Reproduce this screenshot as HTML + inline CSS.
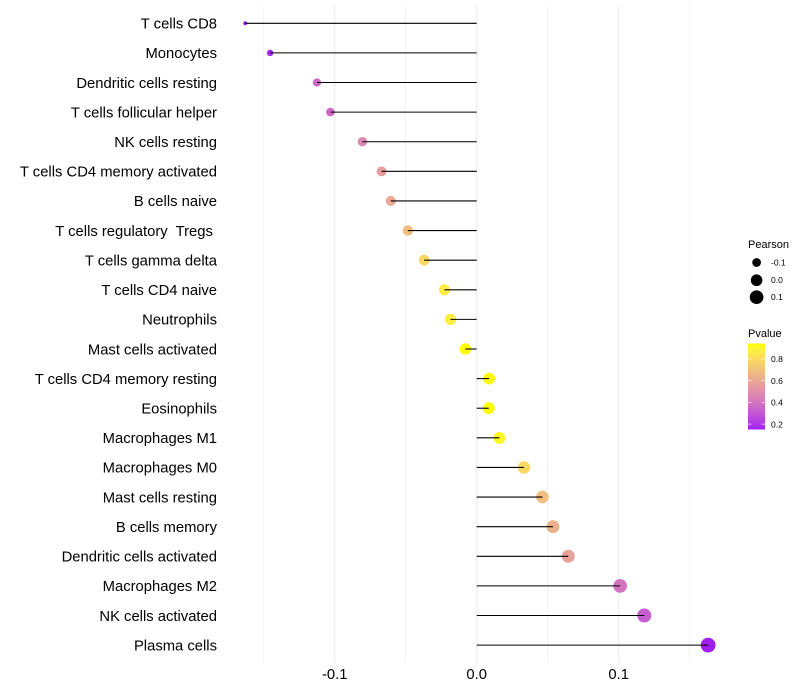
<!DOCTYPE html>
<html>
<head>
<meta charset="utf-8">
<title>Pearson lollipop chart</title>
<style>
html,body{margin:0;padding:0;background:#fff;}
svg{display:block;font-family:"Liberation Sans",sans-serif;}
text{white-space:pre;}
</style>
</head>
<body>
<svg id="chart" width="800" height="700" viewBox="0 0 800 700" xmlns="http://www.w3.org/2000/svg">
<defs><linearGradient id="pgrad" x1="0" y1="1" x2="0" y2="0"></linearGradient></defs>
<g id="grid"></g>
<g id="points"></g>
<g id="stems"></g>
<g id="ylabels"></g>
<g id="xlabels"></g>
<g id="legend-size"></g>
<g id="legend-color"></g>
</svg>
<script>
const categories = ["T cells CD8","Monocytes","Dendritic cells resting","T cells follicular helper","NK cells resting","T cells CD4 memory activated","B cells naive","T cells regulatory  Tregs ","T cells gamma delta","T cells CD4 naive","Neutrophils","Mast cells activated","T cells CD4 memory resting","Eosinophils","Macrophages M1","Macrophages M0","Mast cells resting","B cells memory","Dendritic cells activated","Macrophages M2","NK cells activated","Plasma cells"];
const pearson = [-0.163,-0.1455,-0.1125,-0.103,-0.0805,-0.067,-0.0605,-0.0485,-0.037,-0.0227,-0.0185,-0.008,0.0087,0.0085,0.016,0.0333,0.0463,0.0537,0.0645,0.101,0.118,0.163];
const pvalue = [0.15,0.175,0.36,0.36,0.47,0.55,0.60,0.68,0.79,0.87,0.87,0.943,0.943,0.943,0.92,0.79,0.69,0.63,0.57,0.40,0.32,0.15];
const xMajorTicks = [-0.1,0,0.1];
const xMinorTicks = [-0.15,-0.05,0.05,0.15];
const xTickLabels = ["-0.1","0.0","0.1"];
const sizeLegendValues = [-0.1,0,0.1];
const sizeLegendLabels = ["-0.1","0.0","0.1"];
const colorLegendValues = [0.2,0.4,0.6,0.8];
const colorLegendLabels = ["0.2","0.4","0.6","0.8"];

const NS = "http://www.w3.org/2000/svg";
const pMin = 0.15, pMax = 0.943;
const sizeMin = Math.min(...pearson), sizeMax = Math.max(...pearson);

function xScale(v){ return 476.7 + v * 1420; }
function yScale(i){ return 23.28 + i * 29.611; }
function rScale(v){ return 2.0 + 5.4 * Math.sqrt((v - sizeMin) / (sizeMax - sizeMin)); }

function toLab(r,g,b){
  const f = c => { c/=255; return c>0.04045?Math.pow((c+0.055)/1.055,2.4):c/12.92; };
  const R=f(r),G=f(g),B=f(b);
  const X=(0.4124*R+0.3576*G+0.1805*B)/0.95047,Y=0.2126*R+0.7152*G+0.0722*B,Z=(0.0193*R+0.1192*G+0.9505*B)/1.08883;
  const h = t => t>0.008856?Math.cbrt(t):7.787*t+16/116;
  return [116*h(Y)-16,500*(h(X)-h(Y)),200*(h(Y)-h(Z))];
}
function fromLab(L,a,b){
  const fy=(L+16)/116,fx=fy+a/500,fz=fy-b/200;
  const h = t => t*t*t>0.008856?t*t*t:(t-16/116)/7.787;
  const X=h(fx)*0.95047,Y=h(fy),Z=h(fz)*1.08883;
  const lin=[3.2406*X-1.5372*Y-0.4986*Z,-0.9689*X+1.8758*Y+0.0415*Z,0.0557*X-0.2040*Y+1.0570*Z];
  const out=lin.map(c=>{c=Math.max(0,Math.min(1,c));return Math.round(255*(c>0.0031308?1.055*Math.pow(c,1/2.4)-0.055:12.92*c));});
  return "rgb("+out.join(",")+")";
}
const labLow = toLab(160,32,240), labHigh = toLab(255,255,0);
function colorScale(p){
  const t = Math.max(0,Math.min(1,(p-pMin)/(pMax-pMin)));
  return fromLab(labLow[0]+(labHigh[0]-labLow[0])*t,labLow[1]+(labHigh[1]-labLow[1])*t,labLow[2]+(labHigh[2]-labLow[2])*t);
}
function mk(tag,attrs,parent,txt){
  const el=document.createElementNS(NS,tag);
  for(const k in attrs) el.setAttribute(k,attrs[k]);
  if(txt!==undefined) el.textContent=txt;
  parent.appendChild(el);
  return el;
}

const gridG=document.getElementById("grid");
xMinorTicks.forEach(v=>{
  const el=mk("line",{x1:xScale(v),x2:xScale(v),y1:5,y2:663,stroke:"#ebebeb","stroke-width":0.55},gridG);
  
  
});
xMajorTicks.forEach(v=>{
  const el=mk("line",{x1:xScale(v),x2:xScale(v),y1:5,y2:663,stroke:"#ebebeb","stroke-width":1.07},gridG);
  
  
});

const pointsG=document.getElementById("points"), stemsG=document.getElementById("stems"), yl=document.getElementById("ylabels");
categories.forEach((c,i)=>{
  const pt=mk("circle",{cx:xScale(pearson[i]),cy:yScale(i),r:rScale(pearson[i]),fill:colorScale(pvalue[i])},pointsG);
  
  
  const st=mk("line",{x1:xScale(0),x2:xScale(pearson[i]),y1:yScale(i),y2:yScale(i),stroke:"#000","stroke-width":1.07},stemsG);
  
  
  const lb=mk("text",{x:217,y:yScale(i)+5.3,"text-anchor":"end","font-size":14.8,fill:"#000"},yl,c);
  
  
});

const xl=document.getElementById("xlabels");
xMajorTicks.forEach((v,i)=>{
  const el=mk("text",{x:xScale(v),y:679,"text-anchor":"middle","font-size":14.8,fill:"#000"},xl,xTickLabels[i]);
  
  
});

const ls=document.getElementById("legend-size");
const lsTitle=mk("text",{x:748,y:248,"font-size":11,fill:"#000"},ls,"Pearson");


const legendRows=[262.5,280.2,297.2];
sizeLegendValues.forEach((v,i)=>{
  const c=mk("circle",{cx:756.6,cy:legendRows[i],r:rScale(v),fill:"#000"},ls);
  
  
  const t=mk("text",{x:771,y:legendRows[i]+3,"font-size":8.5,fill:"#000"},ls,sizeLegendLabels[i]);
  
  
});

const lc=document.getElementById("legend-color");
const grad=document.getElementById("pgrad");
for(let s=0;s<=20;s++){
  mk("stop",{offset:s/20,"stop-color":colorScale(pMin+(pMax-pMin)*s/20)},grad);
}
const barX=748,barW=17,barTop=343.5,barBot=429.5;
function legendY(p){ return barBot-(p-pMin)/(pMax-pMin)*(barBot-barTop); }
const lcTitle=mk("text",{x:748,y:337,"font-size":11,fill:"#000"},lc,"Pvalue");


const bar=mk("rect",{x:barX,y:barTop,width:barW,height:barBot-barTop,fill:"url(#pgrad)"},lc);


colorLegendValues.forEach((v,i)=>{
  const y=legendY(v);
  const a=mk("line",{x1:barX,x2:barX+3.4,y1:y,y2:y,stroke:"#fff","stroke-width":0.6},lc);
  
  
  const b=mk("line",{x1:barX+barW-3.4,x2:barX+barW,y1:y,y2:y,stroke:"#fff","stroke-width":0.6},lc);
  
  
  const t=mk("text",{x:771,y:y+3.2,"font-size":8.5,fill:"#000"},lc,colorLegendLabels[i]);
  
  
});
</script>
</body>
</html>
